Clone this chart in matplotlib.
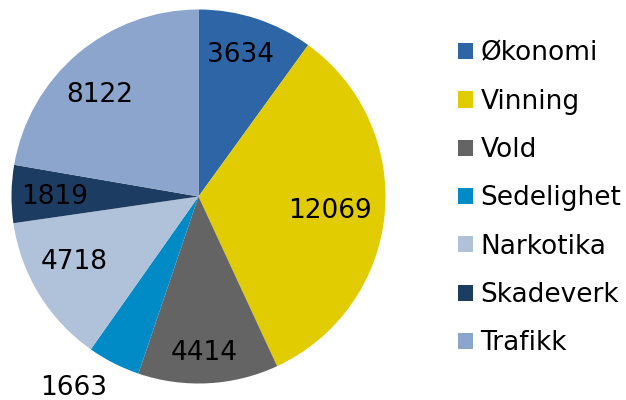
import numpy as np
import matplotlib
matplotlib.use('Agg')
import matplotlib.pyplot as plt
from matplotlib.patches import Patch

# data
categories = ['Økonomi', 'Vinning', 'Vold', 'Sedelighet', 'Narkotika', 'Skadeverk', 'Trafikk']
values = [3634, 12069, 4414, 1663, 4718, 1819, 8122]
colors = ['#2E65A6', '#E0CC00', '#646464', '#008AC6', '#B0C2D9', '#1C3C62', '#8BA5CD']

# label placement (fraction of radius, angle shift in degrees)
label_r = [0.79, 0.705, 0.835, 1.225, 0.752, 0.767, 0.756]
label_shift = [-1.5, 0.6, 1.0, 6.2, 3.7, -1.0, -4.0]

W, H = 626, 400
fig = plt.figure(figsize=(W / 100, H / 100), dpi=100)
cx, cy, R = 198.5, 196.5, 187
ax = fig.add_axes([(cx - R) / W, (H - cy - R) / H, 2 * R / W, 2 * R / H])

wedges, _ = ax.pie(values, colors=colors, startangle=90, counterclock=False,
                   radius=1, wedgeprops=dict(linewidth=0))
ax.set_xlim(-1, 1)
ax.set_ylim(-1, 1)
ax.axis('off')

total = sum(values)
cum = np.cumsum([0] + values)
for i, v in enumerate(values):
    mid = (cum[i] + v / 2) / total * 360 + label_shift[i]
    ang = np.deg2rad(90 - mid)
    x = label_r[i] * np.cos(ang)
    y = label_r[i] * np.sin(ang)
    ax.text(x, y, str(v), ha='center', va='center', fontsize=19,
            color='black', clip_on=False)

handles = [Patch(facecolor=c, edgecolor='none') for c in colors]
fig.legend(handles, categories, loc='center left', bbox_to_anchor=(0.694, 0.504),
           frameon=False, fontsize=19, handlelength=0.57, handleheight=0.57,
           handletextpad=0.27, labelspacing=0.845)

fig.savefig('out.png', dpi=100)
